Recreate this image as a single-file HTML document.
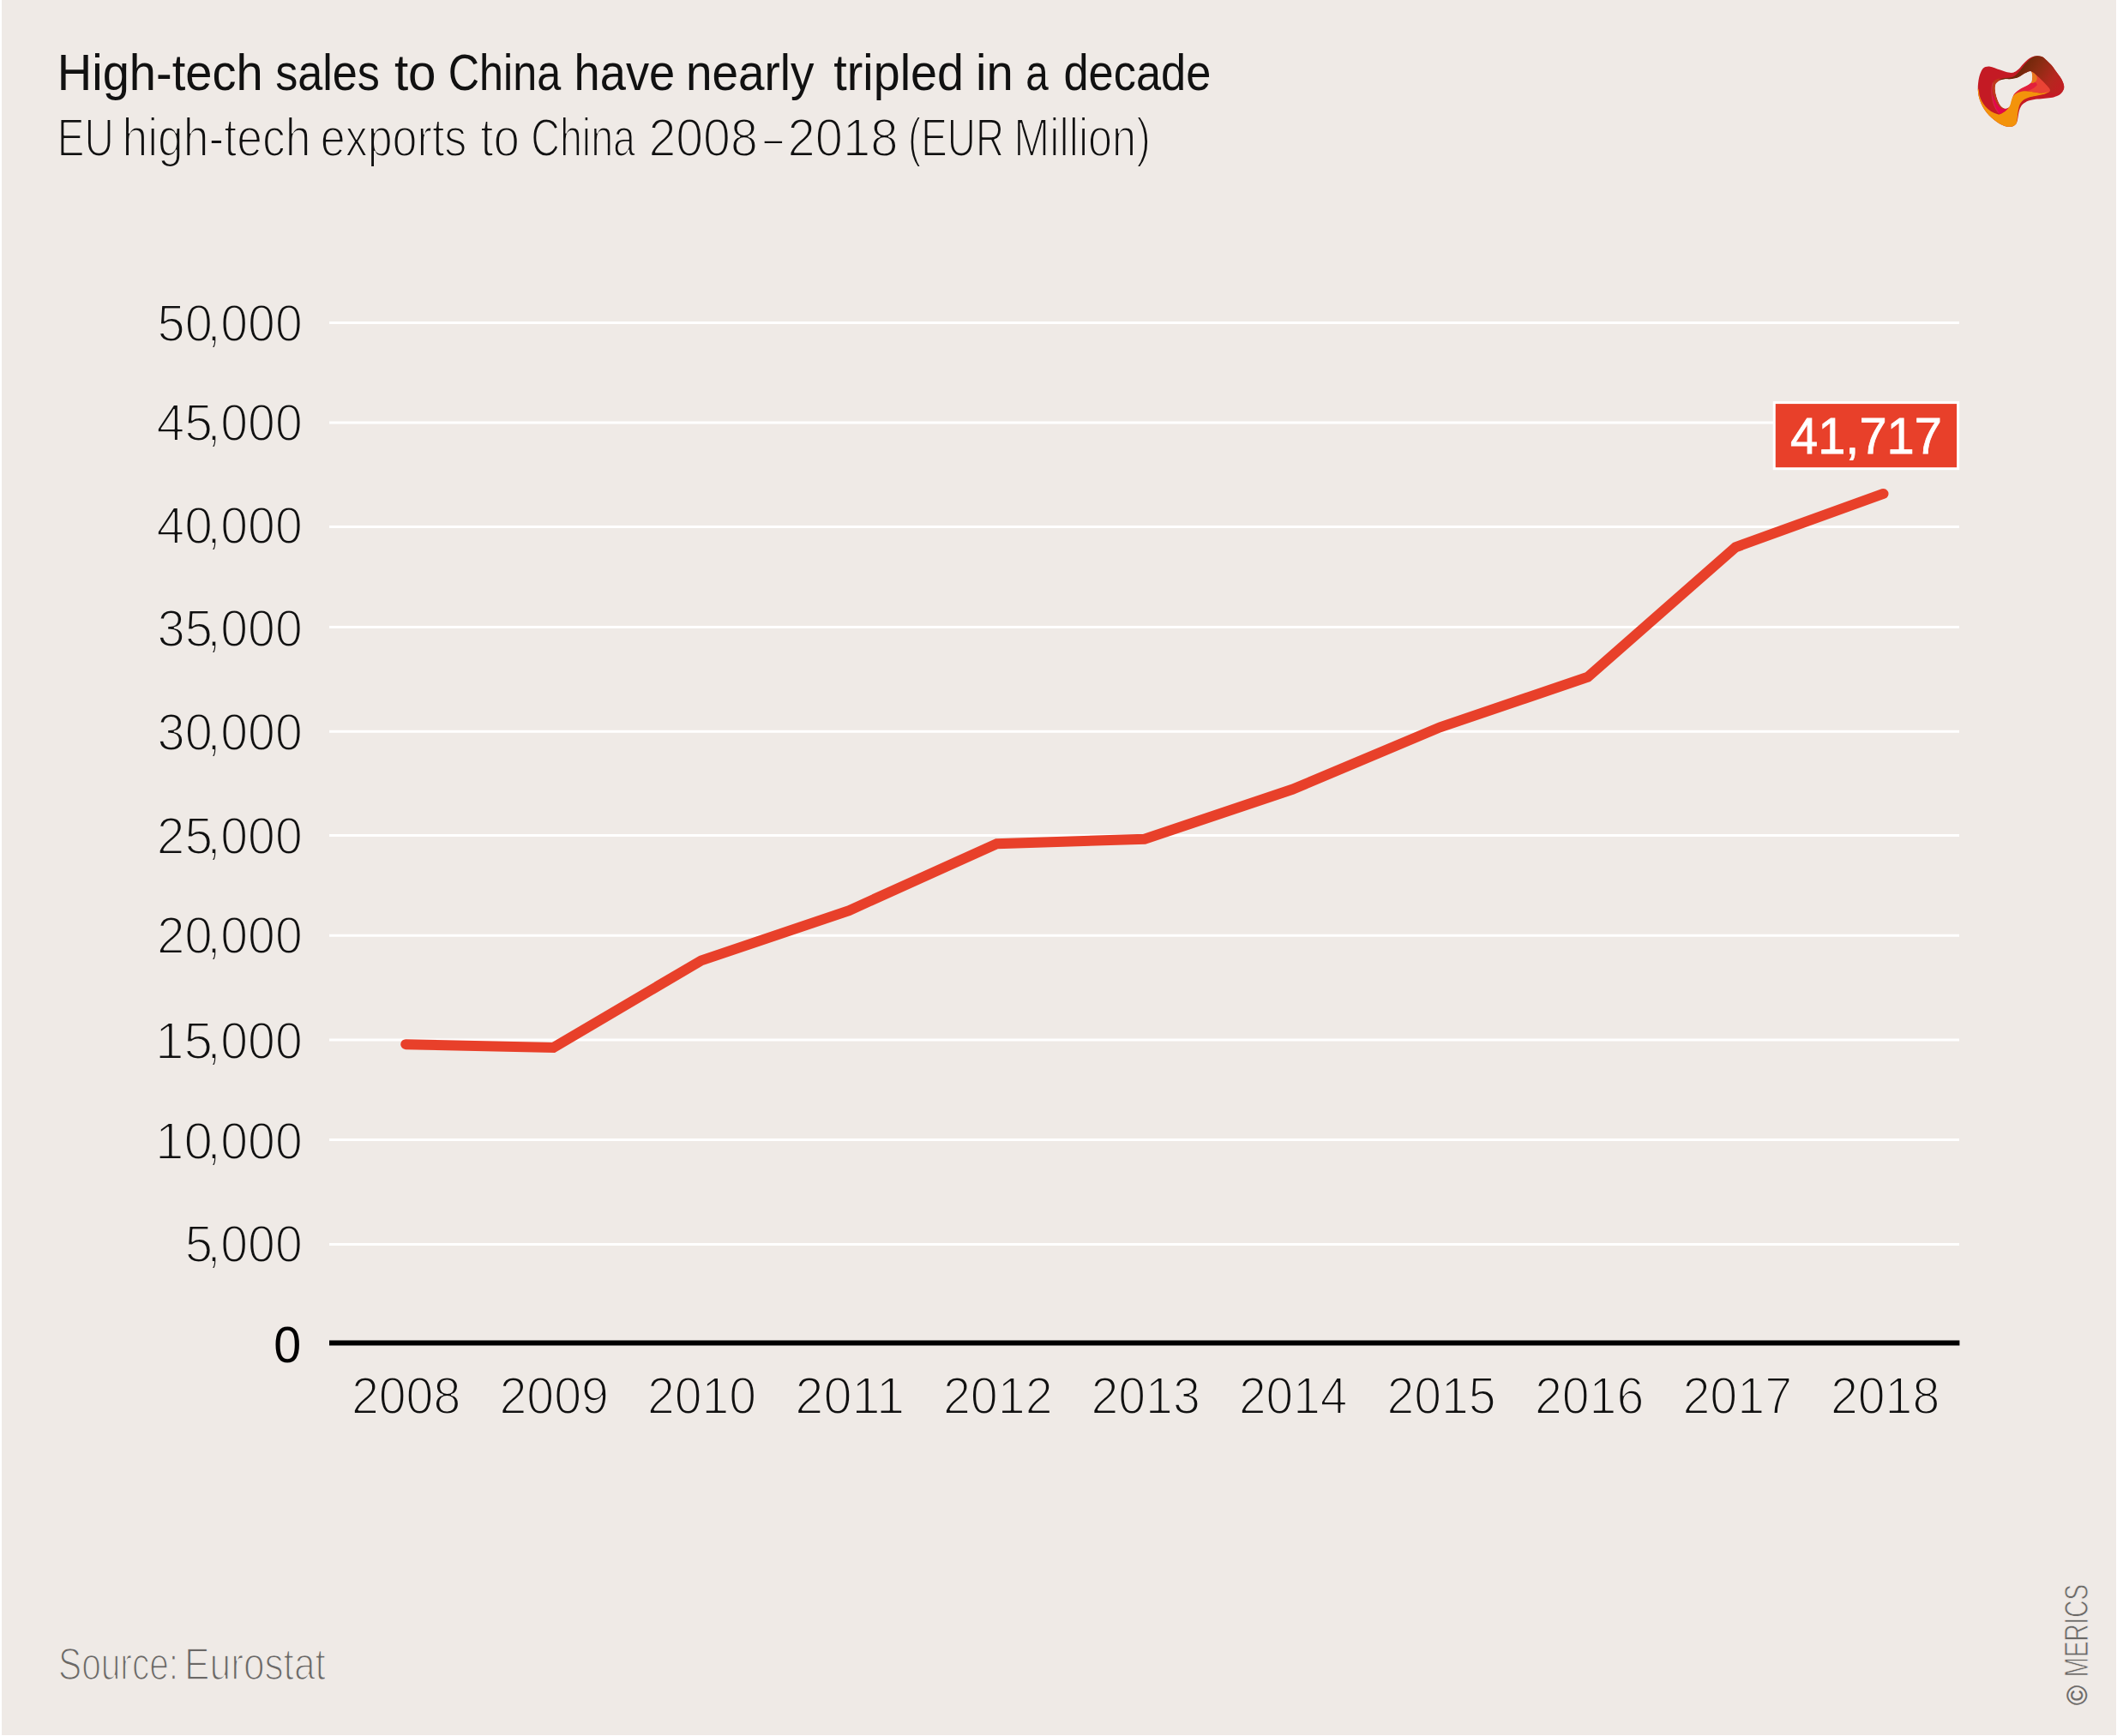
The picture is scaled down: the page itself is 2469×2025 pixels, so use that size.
<!DOCTYPE html>
<html lang="en">
<head>
<meta charset="utf-8">
<title>High-tech sales to China have nearly tripled in a decade</title>
<style>
html,body{margin:0;padding:0;background:#fff;}
body{width:2469px;height:2025px;overflow:hidden;position:relative;font-family:"Liberation Sans",sans-serif;}
#panel{position:absolute;left:2px;top:0;width:2465.5px;height:2024px;background:#efeae6;}
svg{position:absolute;left:0;top:0;}
text{font-family:"Liberation Sans",sans-serif;white-space:pre;}
.thin{stroke:#efeae6;stroke-width:2.0px;paint-order:fill stroke;stroke-linejoin:round;}
</style>
</head>
<body>
<div id="panel"></div>
<svg width="2469" height="2025" viewBox="0 0 2469 2025" role="img" aria-label="EU high-tech exports to China 2008–2018">
<text id="title" y="105" font-size="59.6" fill="#111"><tspan x="66.70" textLength="239.98" lengthAdjust="spacingAndGlyphs">High-tech</tspan> <tspan x="321.19" textLength="121.71" lengthAdjust="spacingAndGlyphs">sales</tspan> <tspan x="459.92" textLength="48.67" lengthAdjust="spacingAndGlyphs">to</tspan> <tspan x="522.78" textLength="131.46" lengthAdjust="spacingAndGlyphs">China</tspan> <tspan x="669.56" textLength="117.66" lengthAdjust="spacingAndGlyphs">have</tspan> <tspan x="799.98" textLength="149.51" lengthAdjust="spacingAndGlyphs">nearly</tspan> <tspan x="972.37" textLength="151.58" lengthAdjust="spacingAndGlyphs">tripled</tspan> <tspan x="1138.09" textLength="43.72" lengthAdjust="spacingAndGlyphs">in</tspan> <tspan x="1196.20" textLength="26.46" lengthAdjust="spacingAndGlyphs">a</tspan> <tspan x="1240.50" textLength="171.79" lengthAdjust="spacingAndGlyphs">decade</tspan></text>
<text id="subtitle" class="thin" y="182.1" font-size="62.5" fill="#111"><tspan x="66.80" textLength="66.02" lengthAdjust="spacingAndGlyphs">EU</tspan> <tspan x="142.41" textLength="220.00" lengthAdjust="spacingAndGlyphs">high-tech</tspan> <tspan x="373.71" textLength="170.68" lengthAdjust="spacingAndGlyphs">exports</tspan> <tspan x="560.28" textLength="45.67" lengthAdjust="spacingAndGlyphs">to</tspan> <tspan x="619.27" textLength="121.77" lengthAdjust="spacingAndGlyphs">China</tspan> <tspan x="756.44" textLength="127.36" lengthAdjust="spacingAndGlyphs">2008</tspan><tspan x="890.90" textLength="21.81" lengthAdjust="spacingAndGlyphs">–</tspan><tspan x="918.40" textLength="129.03" lengthAdjust="spacingAndGlyphs">2018</tspan> <tspan x="1059.06" textLength="111.96" lengthAdjust="spacingAndGlyphs">(EUR</tspan> <tspan x="1182.37" textLength="159.56" lengthAdjust="spacingAndGlyphs">Million)</tspan></text>
<g id="grid" stroke="#fff" stroke-width="3">
<line x1="384" y1="376.4" x2="2285" y2="376.4"/>
<line x1="384" y1="493.1" x2="2285" y2="493.1"/>
<line x1="384" y1="614.5" x2="2285" y2="614.5"/>
<line x1="384" y1="731.5" x2="2285" y2="731.5"/>
<line x1="384" y1="853.2" x2="2285" y2="853.2"/>
<line x1="384" y1="974.6" x2="2285" y2="974.6"/>
<line x1="384" y1="1091.3" x2="2285" y2="1091.3"/>
<line x1="384" y1="1212.9" x2="2285" y2="1212.9"/>
<line x1="384" y1="1329.6" x2="2285" y2="1329.6"/>
<line x1="384" y1="1451.4" x2="2285" y2="1451.4"/>
</g>
<line id="axis" x1="384" y1="1566.5" x2="2285.4" y2="1566.5" stroke="#000" stroke-width="6"/>
<g id="ylabels" class="thin" fill="#111" font-size="61.5">
<text y="398.0"><tspan x="183.49" textLength="64.33" lengthAdjust="spacingAndGlyphs">50</tspan><tspan x="241.41" textLength="111.28" lengthAdjust="spacingAndGlyphs">,000</tspan></text>
<text y="514.1"><tspan x="182.50" textLength="65.53" lengthAdjust="spacingAndGlyphs">45</tspan><tspan x="241.41" textLength="111.28" lengthAdjust="spacingAndGlyphs">,000</tspan></text>
<text y="634.4"><tspan x="182.51" textLength="65.34" lengthAdjust="spacingAndGlyphs">40</tspan><tspan x="241.41" textLength="111.28" lengthAdjust="spacingAndGlyphs">,000</tspan></text>
<text y="753.6"><tspan x="183.60" textLength="64.39" lengthAdjust="spacingAndGlyphs">35</tspan><tspan x="241.41" textLength="111.28" lengthAdjust="spacingAndGlyphs">,000</tspan></text>
<text y="874.7"><tspan x="183.61" textLength="64.20" lengthAdjust="spacingAndGlyphs">30</tspan><tspan x="241.41" textLength="111.28" lengthAdjust="spacingAndGlyphs">,000</tspan></text>
<text y="996.3"><tspan x="182.87" textLength="65.15" lengthAdjust="spacingAndGlyphs">25</tspan><tspan x="241.41" textLength="111.28" lengthAdjust="spacingAndGlyphs">,000</tspan></text>
<text y="1112.0"><tspan x="182.88" textLength="64.96" lengthAdjust="spacingAndGlyphs">20</tspan><tspan x="241.41" textLength="111.28" lengthAdjust="spacingAndGlyphs">,000</tspan></text>
<text y="1234.7"><tspan x="181.02" textLength="67.07" lengthAdjust="spacingAndGlyphs">15</tspan><tspan x="241.41" textLength="111.28" lengthAdjust="spacingAndGlyphs">,000</tspan></text>
<text y="1352.3"><tspan x="181.03" textLength="66.87" lengthAdjust="spacingAndGlyphs">10</tspan><tspan x="241.41" textLength="111.28" lengthAdjust="spacingAndGlyphs">,000</tspan></text>
<text y="1472.1"><tspan x="215.68" textLength="32.32" lengthAdjust="spacingAndGlyphs">5</tspan><tspan x="241.41" textLength="111.28" lengthAdjust="spacingAndGlyphs">,000</tspan></text>
</g>
<text id="zero" y="1589.2" font-size="59" fill="#000"><tspan x="319.26" textLength="31.93" lengthAdjust="spacingAndGlyphs">0</tspan></text>
<g id="xlabels" class="thin" fill="#111" font-size="61.5">
<text y="1648.6"><tspan x="409.94" textLength="127.36" lengthAdjust="spacingAndGlyphs">2008</tspan></text>
<text y="1648.6"><tspan x="582.43" textLength="127.60" lengthAdjust="spacingAndGlyphs">2009</tspan></text>
<text y="1648.6"><tspan x="754.94" textLength="127.06" lengthAdjust="spacingAndGlyphs">2010</tspan></text>
<text y="1648.6"><tspan x="927.33" textLength="127.85" lengthAdjust="spacingAndGlyphs">2011</tspan></text>
<text y="1648.6"><tspan x="1099.93" textLength="127.78" lengthAdjust="spacingAndGlyphs">2012</tspan></text>
<text y="1648.6"><tspan x="1272.44" textLength="127.36" lengthAdjust="spacingAndGlyphs">2013</tspan></text>
<text y="1648.6"><tspan x="1444.96" textLength="126.53" lengthAdjust="spacingAndGlyphs">2014</tspan></text>
<text y="1648.6"><tspan x="1617.44" textLength="127.24" lengthAdjust="spacingAndGlyphs">2015</tspan></text>
<text y="1648.6"><tspan x="1789.94" textLength="127.36" lengthAdjust="spacingAndGlyphs">2016</tspan></text>
<text y="1648.6"><tspan x="1962.43" textLength="127.78" lengthAdjust="spacingAndGlyphs">2017</tspan></text>
<text y="1648.6"><tspan x="2134.94" textLength="127.36" lengthAdjust="spacingAndGlyphs">2018</tspan></text>
</g>
<path id="series" d="M473.2,1218.2 L645.5,1221.9 L817.9,1120.4 L990.2,1062.1 L1162.5,984.2 L1334.9,978.7 L1507.2,920.8 L1679.5,848.3 L1851.8,789.7 L2024.2,638.3 L2196.5,575.9" fill="none" stroke="#e8402a" stroke-width="12" stroke-linecap="round" stroke-linejoin="miter"/>
<rect x="2069.25" y="469.6" width="214.35" height="77.1" fill="#e8402a" stroke="#fff" stroke-width="3"/>
<text id="val" y="528.8" font-size="60" fill="#fff" stroke="#fff" stroke-width="0.8"><tspan x="2088.03" textLength="176.90" lengthAdjust="spacingAndGlyphs">41,717</tspan></text>
<g id="source" transform="translate(0,1958.90) scale(1,1.2125)" fill="#6a6866" stroke="#efeae6" stroke-width="1.4" stroke-linejoin="round"><text y="0" font-size="42.44"><tspan x="68.07" textLength="140.04" lengthAdjust="spacingAndGlyphs">Source:</tspan> <tspan x="215.07" textLength="164.74" lengthAdjust="spacingAndGlyphs">Eurostat</tspan></text></g>
<g id="copy" fill="#6a6866" stroke="#efeae6" stroke-width="0.6" transform="translate(2434.9,1954.0) rotate(-90) scale(1,1.3827)"><text font-size="27.86"><tspan x="-34.97" textLength="23.03" lengthAdjust="spacingAndGlyphs" y="-0.99" font-size="23.87" stroke="#6a6866" stroke-width="0.25">©</tspan> <tspan x="-2.28" textLength="108.34" lengthAdjust="spacingAndGlyphs" y="0">MERICS</tspan></text></g>
<g id="logo" transform="translate(2296,55) scale(0.059916)">
<defs><linearGradient id="lgB" gradientUnits="userSpaceOnUse" x1="1000" y1="350" x2="1750" y2="850"><stop offset="0" stop-color="#6a2608"/><stop offset="0.35" stop-color="#8a2c12"/><stop offset="0.75" stop-color="#b5271f"/><stop offset="1" stop-color="#c01f22"/></linearGradient></defs>
<path d="M330,385 C350,378 375,373 400,375 C425,377 447,384 480,395 C513,406 560,426 600,440 C640,454 682,470 720,480 C758,490 800,500 830,500 C860,500 875,493 900,480 C925,467 953,445 980,420 C1007,395 1033,358 1060,330 C1087,302 1112,273 1140,250 C1168,227 1198,203 1230,190 C1262,177 1298,171 1330,170 C1362,169 1392,173 1420,185 C1448,197 1470,214 1500,240 C1530,266 1567,302 1600,340 C1633,378 1670,430 1700,470 C1730,510 1758,547 1780,580 C1802,613 1818,642 1830,670 C1842,698 1852,723 1855,750 C1858,777 1854,805 1845,830 C1836,855 1821,880 1800,900 C1779,920 1753,936 1720,950 C1687,964 1645,977 1600,985 C1555,993 1500,995 1450,1000 C1400,1005 1345,1008 1300,1015 C1255,1022 1217,1028 1180,1040 C1143,1052 1107,1072 1080,1090 C1053,1108 1036,1127 1020,1150 C1004,1173 994,1200 985,1230 C976,1260 971,1298 965,1330 C959,1362 957,1393 950,1420 C943,1447 938,1471 925,1490 C912,1509 892,1525 870,1535 C848,1545 818,1550 790,1550 C762,1550 732,1545 700,1535 C668,1525 633,1509 600,1490 C567,1471 533,1447 500,1420 C467,1393 432,1363 400,1330 C368,1297 337,1260 310,1220 C283,1180 259,1135 240,1090 C221,1045 205,995 195,950 C185,905 182,862 180,820 C178,778 181,740 185,700 C189,660 196,617 205,580 C214,543 228,508 240,480 C252,452 265,431 280,415 C295,399 310,392 330,385Z M540,700 C553,685 573,662 600,650 C627,638 667,629 700,625 C733,621 767,628 800,625 C833,622 867,619 900,610 C933,601 967,587 1000,570 C1033,553 1070,526 1100,510 C1130,494 1160,480 1180,475 C1200,470 1211,469 1220,480 C1229,491 1232,517 1235,540 C1238,563 1238,595 1235,620 C1232,645 1229,670 1215,690 C1201,710 1178,723 1150,740 C1122,757 1083,772 1050,790 C1017,808 978,828 950,850 C922,872 898,893 880,920 C862,947 851,980 840,1010 C829,1040 823,1075 815,1100 C807,1125 801,1145 790,1160 C779,1175 765,1184 750,1190 C735,1196 717,1198 700,1195 C683,1192 667,1184 650,1170 C633,1156 615,1135 600,1110 C585,1085 572,1052 560,1020 C548,988 538,953 530,920 C522,887 517,850 515,820 C513,790 516,760 520,740 C524,720 527,715 540,700Z" fill="#c41a24" fill-rule="evenodd"/>
<path d="M545,690 C543,688 571,653 590,640 C609,627 632,617 660,610 C688,603 728,602 760,598 C792,594 822,596 850,585 C878,574 905,557 930,535 C955,513 975,486 1000,455 C1025,424 1053,382 1080,350 C1107,318 1132,288 1160,262 C1188,236 1222,210 1250,195 C1278,180 1302,174 1330,172 C1358,170 1392,174 1420,185 C1448,196 1470,214 1500,240 C1530,266 1567,302 1600,340 C1633,378 1670,430 1700,470 C1730,510 1758,547 1780,580 C1802,613 1818,642 1830,670 C1842,698 1852,723 1855,750 C1858,777 1861,805 1845,830 C1829,855 1792,888 1760,900 C1728,912 1683,909 1650,905 C1617,901 1571,884 1560,875 C1549,866 1585,864 1585,850 C1585,836 1578,815 1560,790 C1542,765 1510,732 1480,700 C1450,668 1412,630 1380,600 C1348,570 1317,540 1290,520 C1263,500 1238,488 1220,480 C1202,472 1200,470 1180,475 C1160,480 1130,494 1100,510 C1070,526 1033,553 1000,570 C967,587 933,601 900,610 C867,619 833,622 800,625 C767,628 733,621 700,625 C667,629 626,639 600,650 C574,661 547,692 545,690Z" fill="url(#lgB)"/>
<path d="M1220,480 C1229,477 1263,500 1290,520 C1317,540 1348,570 1380,600 C1412,630 1450,668 1480,700 C1510,732 1542,765 1560,790 C1578,815 1588,835 1585,850 C1582,865 1564,872 1540,880 C1516,888 1480,895 1440,895 C1400,895 1348,886 1300,880 C1252,874 1192,863 1150,860 C1108,857 1083,855 1050,860 C1017,865 978,877 950,890 C922,903 888,940 880,940 C872,940 887,906 900,890 C913,874 935,862 960,845 C985,828 1018,808 1050,790 C1082,772 1122,757 1150,740 C1178,723 1201,710 1215,690 C1229,670 1232,645 1235,620 C1238,595 1238,563 1235,540 C1232,517 1211,483 1220,480Z" fill="#ea4335"/>
<path d="M1215,690 C1198,700 1178,723 1150,740 C1122,757 1083,772 1050,790 C1017,808 978,828 950,850 C922,872 898,893 880,920 C862,947 849,983 840,1010 C831,1037 823,1082 825,1080 C827,1078 839,1024 850,1000 C861,976 872,954 890,935 C908,916 932,898 960,885 C988,872 1027,862 1060,855 C1093,848 1127,854 1160,845 C1193,836 1232,818 1260,800 C1288,782 1323,758 1330,740 C1337,722 1313,700 1300,690 C1287,680 1264,680 1250,680 C1236,680 1232,680 1215,690Z" fill="#e2203c"/>
<path d="M1220,480 C1226,474 1253,492 1270,505 C1287,518 1310,541 1320,560 C1330,579 1335,600 1330,620 C1325,640 1309,667 1290,680 C1271,693 1224,710 1215,700 C1206,690 1232,647 1235,620 C1238,593 1238,563 1235,540 C1232,517 1214,486 1220,480Z" fill="#e8781e"/>
<path d="M470,700 C480,673 498,655 520,640 C542,625 587,608 600,610 C613,612 610,635 600,650 C590,665 553,682 540,700 C527,718 524,735 520,760 C516,785 513,818 515,850 C517,882 522,918 530,950 C538,982 548,1013 560,1040 C572,1067 585,1088 600,1110 C615,1132 633,1156 650,1170 C667,1184 700,1190 700,1195 C700,1200 668,1206 650,1200 C632,1194 608,1178 590,1160 C572,1142 555,1117 540,1090 C525,1063 511,1032 500,1000 C489,968 481,933 475,900 C469,867 463,833 462,800 C461,767 460,727 470,700Z" fill="#bd3a1b"/>
<path d="M470,1000 C473,1033 487,1092 500,1130 C513,1168 533,1202 550,1230 C567,1258 578,1294 600,1300 C622,1306 653,1282 680,1265 C707,1248 757,1206 760,1195 C763,1184 718,1199 700,1200 C682,1201 668,1207 650,1200 C632,1193 608,1178 590,1160 C572,1142 555,1117 540,1090 C525,1063 510,1027 500,1000 C490,973 485,930 480,930 C475,930 467,967 470,1000Z" fill="#e4054c"/>
<path d="M180,820 C180,840 185,905 195,950 C205,995 221,1045 240,1090 C259,1135 283,1180 310,1220 C337,1260 368,1297 400,1330 C432,1363 467,1393 500,1420 C533,1447 567,1471 600,1490 C633,1509 668,1525 700,1535 C732,1545 762,1550 790,1550 C818,1550 848,1545 870,1535 C892,1525 912,1512 925,1490 C938,1468 940,1432 945,1400 C950,1368 950,1337 955,1300 C960,1263 966,1215 975,1180 C984,1145 992,1117 1010,1090 C1028,1063 1052,1039 1080,1020 C1108,1001 1143,987 1180,975 C1217,963 1255,959 1300,950 C1345,941 1407,933 1450,920 C1493,907 1552,876 1560,870 C1568,864 1527,881 1500,885 C1473,889 1433,896 1400,895 C1367,894 1342,886 1300,880 C1258,874 1192,863 1150,860 C1108,857 1083,855 1050,860 C1017,865 980,875 950,890 C920,905 890,927 870,950 C850,973 842,1000 830,1030 C818,1060 812,1102 800,1130 C788,1158 780,1177 760,1200 C740,1223 707,1252 680,1270 C653,1288 627,1307 600,1310 C573,1313 550,1302 520,1290 C490,1278 452,1262 420,1240 C388,1218 357,1190 330,1160 C303,1130 279,1095 260,1060 C241,1025 226,988 215,950 C204,912 201,852 195,830 C189,808 180,800 180,820Z" fill="#f3930b"/>
<path d="M470,690 C440,780 440,900 470,1050 C490,1130 520,1200 580,1280" fill="none" stroke="#d8455a" stroke-width="14" opacity="0.7"/>
<path d="M540,700 C553,685 573,662 600,650 C627,638 667,629 700,625 C733,621 767,628 800,625 C833,622 867,619 900,610 C933,601 967,587 1000,570 C1033,553 1070,526 1100,510 C1130,494 1160,480 1180,475 C1200,470 1211,469 1220,480 C1229,491 1232,517 1235,540 C1238,563 1238,595 1235,620 C1232,645 1229,670 1215,690 C1201,710 1178,723 1150,740 C1122,757 1083,772 1050,790 C1017,808 978,828 950,850 C922,872 898,893 880,920 C862,947 851,980 840,1010 C829,1040 823,1075 815,1100 C807,1125 801,1145 790,1160 C779,1175 765,1184 750,1190 C735,1196 717,1198 700,1195 C683,1192 667,1184 650,1170 C633,1156 615,1135 600,1110 C585,1085 572,1052 560,1020 C548,988 538,953 530,920 C522,887 517,850 515,820 C513,790 516,760 520,740 C524,720 527,715 540,700Z" fill="#efeae6"/>
</g>
</svg>
</body>
</html>
